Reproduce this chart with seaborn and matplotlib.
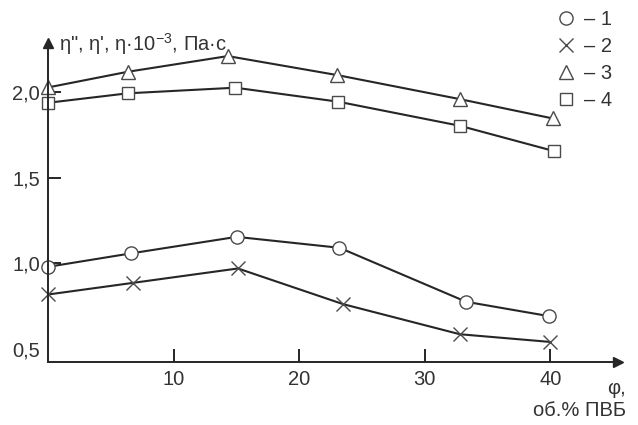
import numpy as np
import pandas as pd
import matplotlib
matplotlib.use("Agg")
import matplotlib.pyplot as plt
import seaborn as sns

# values
x1 = [0, 6.55, 15.0, 23.2, 33.3, 39.9]
y1 = [0.98, 1.058, 1.155, 1.091, 0.775, 0.691]   # circles
x2 = [0, 6.76, 15.1, 23.5, 32.8, 40.0]
y2 = [0.818, 0.886, 0.970, 0.761, 0.585, 0.540]  # crosses
x3 = [0, 6.31, 14.3, 23.0, 32.8, 40.2]
y3 = [2.030, 2.121, 2.213, 2.102, 1.961, 1.848]  # triangles
x4 = [0, 6.31, 14.9, 23.1, 32.8, 40.3]
y4 = [1.940, 1.995, 2.028, 1.946, 1.805, 1.657]  # squares

labels = ["\u2013 1", "\u2013 2", "\u2013 3", "\u2013 4"]
markers = ["o", "x", "^", "s"]
xticks = [10, 20, 30, 40]
yticks = [0.5, 1.0, 1.5, 2.0]
yticklabels = ["0,5", "1,0", "1,5", "2,0"]

sns.set_style("ticks")
plt.rcParams["font.family"] = ["Liberation Sans", "DejaVu Sans"]
plt.rcParams["mathtext.fontset"] = "custom"
plt.rcParams["mathtext.rm"] = "Liberation Sans"
plt.rcParams["mathtext.it"] = "Liberation Sans"

ink = "#262626"
text_c = "#333333"
fs = 14.5

fig = plt.figure(figsize=(6.38, 4.25), dpi=100)
ax = fig.add_axes([0.076, 0.148, 0.8926, 0.7506])

series = [(x1, y1), (x2, y2), (x3, y3), (x4, y4)]
for (xs, ys), m, lab in zip(series, markers, labels):
    sns.lineplot(x=xs, y=ys, ax=ax, color=ink, linewidth=1.5,
                 marker=m, markersize=9.5 if m != "s" else 9,
                 markerfacecolor="white", markeredgecolor="#4a4a4a",
                 markeredgewidth=1.0, label=lab, clip_on=False)

ax.set_xlim(0, 45.4)
ax.set_ylim(0.422, 2.289)
ax.set_xticks(xticks)
ax.set_xticklabels([str(t) for t in xticks])
ax.set_yticks(yticks)
ax.set_yticklabels(yticklabels)
ax.tick_params(axis="both", direction="in", length=9.5, width=1.4,
               color=ink, labelsize=fs, labelcolor=text_c, pad=6)
ax.yaxis.get_major_ticks()[0].tick1line.set_visible(False)

for s in ["top", "right"]:
    ax.spines[s].set_visible(False)
for s in ["left", "bottom"]:
    ax.spines[s].set_color(ink)
    ax.spines[s].set_linewidth(1.4)

# arrow heads on the axes
ax.plot(1, 0, ">", color=ink, markersize=7, transform=ax.transAxes, clip_on=False)
ax.plot(0, 1, "^", color=ink, markersize=7, transform=ax.transAxes, clip_on=False)

fig.text(59 / 638, 1 - 44 / 425, "η\", η', η·10$^{-3}$, Па·с",
         fontsize=fs, color=text_c, ha="left", va="center")
fig.text(626 / 638, 1 - 388 / 425, "φ,", fontsize=fs,
         color=text_c, ha="right", va="center")
fig.text(626 / 638, 1 - 410 / 425, "об.% ПВБ", fontsize=fs,
         color=text_c, ha="right", va="center")

leg = ax.legend(loc="upper left", bbox_to_anchor=(548 / 638, 1.0),
                bbox_transform=fig.transFigure, frameon=False,
                handlelength=0.8, handletextpad=0.5, labelspacing=0.4,
                fontsize=fs, borderpad=0)
for t in leg.get_texts():
    t.set_color(text_c)
for h in leg.legend_handles:
    h.set_linestyle("none")

fig.savefig("out.png", dpi=100, facecolor="white")
